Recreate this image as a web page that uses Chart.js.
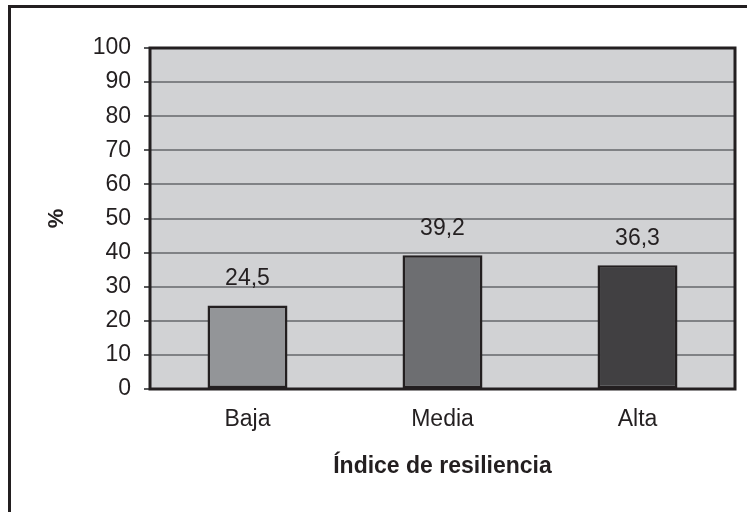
<!DOCTYPE html>
<html lang="es">
<head>
    <meta charset="UTF-8">
    <title>Índice de resiliencia</title>
    <script src="https://cdn.jsdelivr.net/npm/chart.js"></script>
    <style>
        html, body { margin: 0; padding: 0; background: #fff; overflow: hidden; }
        .frame {
            position: absolute; left: 8px; top: 5px;
            width: 800px; height: 600px;
            border: 3px solid #231f20;
        }
        .chart-container { position: absolute; left: 0; top: 0; width: 747px; height: 512px; }
    </style>
</head>
<body>

<div class="frame"></div>
<div class="chart-container">
    <canvas id="resilienciaChart" width="747" height="512"></canvas>
</div>

<script>
    // datos
    const categorias = ['Baja', 'Media', 'Alta'];
    const porcentajes = [24.5, 39.2, 36.3];
    const coloresBarras = ['#939598', '#6d6e71', '#414042'];

    const fuente = "'Liberation Sans', Arial, sans-serif";
    const negro = '#231f20';

    // fondo gris y marco del área de trazado
    const fondoPlot = {
        id: 'fondoPlot',
        beforeDraw(chart) {
            const { ctx, chartArea: a } = chart;
            ctx.save();
            ctx.fillStyle = '#d1d2d4';
            ctx.fillRect(a.left, a.top, a.right - a.left, a.bottom - a.top);
            ctx.restore();
        },
        afterDatasetsDraw(chart) {
            const { ctx, chartArea: a } = chart;
            ctx.save();
            ctx.strokeStyle = negro;
            ctx.lineWidth = 3;
            ctx.strokeRect(a.left, a.top, a.right - a.left, a.bottom - a.top);
            ctx.restore();
        }
    };

    // etiquetas de valor con coma decimal
    const etiquetas = {
        id: 'etiquetas',
        afterDatasetsDraw(chart) {
            const { ctx } = chart;
            const meta = chart.getDatasetMeta(0);
            ctx.save();
            ctx.font = '23px ' + fuente;
            ctx.fillStyle = negro;
            ctx.textAlign = 'center';
            ctx.textBaseline = 'bottom';
            meta.data.forEach((bar, i) => {
                const txt = porcentajes[i].toFixed(1).replace('.', ',');
                ctx.fillText(txt, bar.x, bar.y - 15);
            });
            ctx.restore();
        }
    };

    const ctx = document.getElementById('resilienciaChart').getContext('2d');

    new Chart(ctx, {
        type: 'bar',
        data: {
            labels: categorias,
            datasets: [{
                data: porcentajes,
                backgroundColor: coloresBarras,
                borderColor: negro,
                borderWidth: 2.5,
                borderSkipped: false,
                categoryPercentage: 1,
                barPercentage: 0.41
            }]
        },
        options: {
            responsive: false,
            animation: false,
            devicePixelRatio: 1,
            layout: { padding: { left: 44, top: 48, right: 12, bottom: 32 } },
            plugins: {
                legend: { display: false },
                tooltip: { enabled: false }
            },
            scales: {
                x: {
                    grid: { display: false, drawTicks: false },
                    border: { display: false },
                    ticks: {
                        color: negro,
                        padding: 17,
                        font: { family: fuente, size: 23 }
                    },
                    title: {
                        display: true,
                        text: 'Índice de resiliencia',
                        color: negro,
                        padding: 0,
                        font: { family: fuente, size: 23, weight: 'bold' }
                    },
                    afterFit(scale) { scale.height = 91; }
                },
                y: {
                    min: 0,
                    max: 100,
                    grid: {
                        color: '#808285',
                        lineWidth: 2,
                        tickColor: '#58595b',
                        tickLength: 6
                    },
                    border: { display: false },
                    ticks: {
                        stepSize: 10,
                        color: negro,
                        padding: 13,
                        font: { family: fuente, size: 23 }
                    },
                    title: {
                        display: true,
                        text: '%',
                        color: negro,
                        padding: 0,
                        font: { family: fuente, size: 22, weight: 'bold' }
                    },
                    afterFit(scale) { scale.width = 106; }
                }
            }
        },
        plugins: [fondoPlot, etiquetas]
    });
</script>

</body>
</html>
